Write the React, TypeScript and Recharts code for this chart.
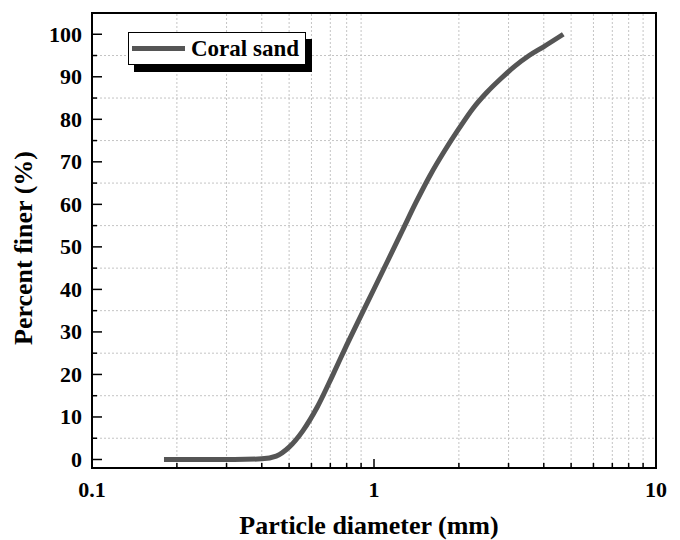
import React from 'react';
import {
  LineChart, Line, XAxis, YAxis, ReferenceLine, ReferenceArea, Legend
} from 'recharts';

// particle size distribution
const diameters = [0.18, 0.25, 0.32, 0.4, 0.45, 0.5, 0.56, 0.63, 0.71, 0.8, 0.9, 1.0, 1.12, 1.26, 1.41, 1.58, 1.78, 2.0, 2.24, 2.51, 2.82, 3.16, 3.55, 3.98, 4.69];
const percentFiner = [0, 0, 0, 0.15, 0.8, 2.9, 6.8, 12.4, 19.5, 26.9, 33.9, 40.1, 46.8, 53.8, 60.5, 66.8, 72.6, 77.8, 82.5, 86.3, 89.6, 92.5, 95, 97, 100];

const xTicks = [0.1, 0.2, 0.3, 0.4, 0.5, 0.6, 0.7, 0.8, 0.9, 1, 2, 3, 4, 5, 6, 7, 8, 9, 10];
const xLabels = [0.1, 1, 10];
const yTicks = [0, 5, 10, 15, 20, 25, 30, 35, 40, 45, 50, 55, 60, 65, 70, 75, 80, 85, 90, 95, 100];
const yLabels = [0, 10, 20, 30, 40, 50, 60, 70, 80, 90, 100];
const gridX = [0.2, 0.3, 0.4, 0.5, 0.6, 0.7, 0.8, 0.9, 2, 3, 4, 5, 6, 7, 8, 9];
const gridY = [5, 15, 25, 35, 45, 55, 65, 75, 85, 95];

const seriesName = 'Coral sand';

const data = diameters.map((d, i) => ({ d, p: percentFiner[i] }));

const FONT = '"Times New Roman", "Liberation Serif", serif';
const LINE_COLOR = '#555555';

const XTick = (props: any) => {
  const { x, y, payload } = props;
  const v = payload.value;
  const major = xLabels.includes(v);
  return (
    <g>
      <line x1={x} x2={x} y1={y} y2={y - (major ? 9 : 5)} stroke="#000" strokeWidth={1.5} />
      {major && (
        <text x={x} y={y + 29} textAnchor="middle" fontFamily={FONT} fontWeight="bold" fontSize={22} fill="#000">
          {v}
        </text>
      )}
    </g>
  );
};

const YTick = (props: any) => {
  const { x, y, payload } = props;
  const v = payload.value;
  const major = yLabels.includes(v);
  return (
    <g>
      <line x1={x} x2={x + (major ? 10 : 5)} y1={y} y2={y} stroke="#000" strokeWidth={1.5} />
      {major && (
        <text x={x - 10} y={y + 7.5} textAnchor="end" fontFamily={FONT} fontWeight="bold" fontSize={22} fill="#000">
          {v}
        </text>
      )}
    </g>
  );
};

const LegendBox = () => (
  <div
    style={{
      width: 176, height: 31, border: '1px solid #000', background: '#fff',
      boxShadow: '6px 7px 0 #000', display: 'flex', alignItems: 'center',
      fontFamily: FONT, fontWeight: 'bold', fontSize: 23, color: '#000'
    }}
  >
    <span style={{ display: 'inline-block', width: 53, height: 5, background: LINE_COLOR, marginLeft: 3, marginRight: 6 }} />
    <span>{seriesName}</span>
  </div>
);

export default function App() {
  return (
    <div style={{ position: 'absolute', left: 0, top: 0, width: 680, height: 540, background: '#fff' }}>
      <LineChart width={680} height={540} data={data} margin={{ top: 13, right: 24, bottom: 71, left: 91 }}>
        {gridX.map((g) => (
          <ReferenceLine key={'gx' + g} x={g} stroke="#c4c4c4" strokeDasharray="2 2" strokeWidth={1} />
        ))}
        {gridY.map((g) => (
          <ReferenceLine key={'gy' + g} y={g} stroke="#c4c4c4" strokeDasharray="2 2" strokeWidth={1} />
        ))}
        <XAxis
          dataKey="d"
          type="number"
          scale="log"
          domain={[0.1, 10]}
          allowDataOverflow
          ticks={xTicks}
          interval={0}
          height={1}
          tickSize={0}
          tickMargin={0}
          tickLine={false}
          tick={<XTick />}
          axisLine={{ stroke: '#000', strokeWidth: 2 }}
        />
        <YAxis
          type="number"
          domain={[-2, 105]}
          allowDataOverflow
          ticks={yTicks}
          interval={0}
          width={1}
          tickSize={0}
          tickMargin={0}
          tickLine={false}
          tick={<YTick />}
          axisLine={{ stroke: '#000', strokeWidth: 2 }}
        />
        <Line
          type="monotone"
          dataKey="p"
          name={seriesName}
          stroke={LINE_COLOR}
          strokeWidth={5}
          dot={false}
          isAnimationActive={false}
        />
        <ReferenceArea x1={0.1} x2={10} y1={-2} y2={105} fill="none" stroke="#000" strokeWidth={2} />
        <Legend
          layout="horizontal"
          verticalAlign="middle"
          align="center"
          content={<LegendBox />}
          wrapperStyle={{ top: 32, left: 128, width: 186, height: 40 }}
        />
      </LineChart>
      <svg width={680} height={540} style={{ position: 'absolute', left: 0, top: 0, pointerEvents: 'none' }}>
        <text x={369} y={534} textAnchor="middle" fontFamily={FONT} fontWeight="bold" fontSize={26} fill="#000">
          Particle diameter (mm)
        </text>
        <text
          x={32}
          y={248}
          textAnchor="middle"
          transform="rotate(-90, 32, 248)"
          fontFamily={FONT}
          fontWeight="bold"
          fontSize={26}
          fill="#000"
        >
          Percent finer (%)
        </text>
      </svg>
    </div>
  );
}
